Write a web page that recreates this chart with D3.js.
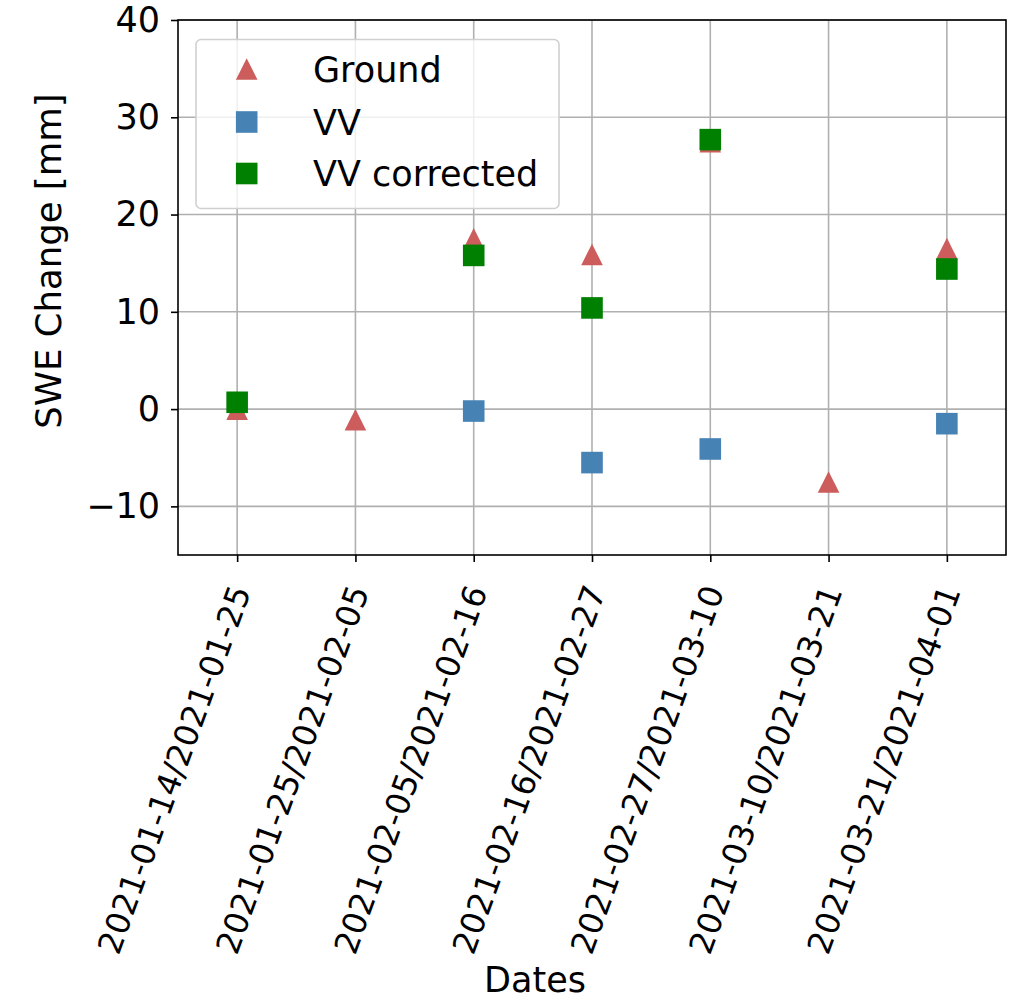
<!DOCTYPE html>
<html>
<head>
<meta charset="utf-8">
<script src="https://cdn.jsdelivr.net/npm/d3@7"></script>
<style>
  html, body { margin: 0; padding: 0; background: #fff; }
  svg { display: block; font-family: "DejaVu Sans", sans-serif; }
</style>
</head>
<body>
<svg id="chart" width="1015" height="997"></svg>
<script>
const categories = [
  "2021-01-14/2021-01-25",
  "2021-01-25/2021-02-05",
  "2021-02-05/2021-02-16",
  "2021-02-16/2021-02-27",
  "2021-02-27/2021-03-10",
  "2021-03-10/2021-03-21",
  "2021-03-21/2021-04-01"
];
const groundValues = [0.0, -1.1, 17.5, 15.9, 27.5, -7.5, 16.5];
const vvValues = [null, null, -0.2, -5.5, -4.1, null, -1.5];
const vvCorrectedValues = [0.7, null, 15.8, 10.4, 27.7, null, 14.4];
const yTicks = [-10, 0, 10, 20, 30, 40];

const series = [
  { name: "Ground", values: groundValues, color: "#CD5C5C", shape: "triangle" },
  { name: "VV", values: vvValues, color: "#4682B4", shape: "square" },
  { name: "VV corrected", values: vvCorrectedValues, color: "#008000", shape: "square" }
];

(function () {
const svg = d3.select("#chart");
const mLeft = 178, mRight = 1006, mTop = 20, mBottom = 555;
const fs = 35;

const x = d3.scaleLinear().domain([-0.5, categories.length - 0.5]).range([mLeft, mRight]);
const y = d3.scaleLinear().domain([-15, 40]).range([mBottom, mTop]);

// grid
const grid = svg.append("g");
grid.selectAll("line.vg").data(categories).enter().append("line")
  .attr("x1", (d, i) => x(i)).attr("x2", (d, i) => x(i))
  .attr("y1", mTop).attr("y2", mBottom)
  .attr("stroke", "#b0b0b0").attr("stroke-width", 1.6);
grid.selectAll("line.hg").data(yTicks).enter().append("line")
  .attr("x1", mLeft).attr("x2", mRight)
  .attr("y1", d => y(d)).attr("y2", d => y(d))
  .attr("stroke", "#b0b0b0").attr("stroke-width", 1.6);

// markers
const S = 10.8;
function markerPath(shape) {
  if (shape === "triangle") return `M0,${-S}L${-S},${S}L${S},${S}Z`;
  return `M${-S},${-S}H${S}V${S}H${-S}Z`;
}
series.forEach(s => {
  svg.append("g").selectAll("path")
    .data(s.values.map((v, i) => ({ v, i })).filter(d => d.v !== null))
    .enter().append("path")
    .attr("d", markerPath(s.shape))
    .attr("transform", d => `translate(${x(d.i)},${y(d.v)})`)
    .attr("fill", s.color);
});

// axes
const yAxis = d3.axisLeft(y).tickValues(yTicks).tickSize(7).tickPadding(11)
  .tickFormat(d => d < 0 ? "\u2212" + Math.abs(d) : String(d));
const gy = svg.append("g").attr("transform", `translate(${mLeft},0)`).call(yAxis);
gy.select(".domain").remove();
gy.selectAll("line").attr("stroke", "#000").attr("stroke-width", 1.6);
gy.selectAll("text").attr("font-size", fs).attr("fill", "#000")
  .attr("font-family", "DejaVu Sans, sans-serif");

const xAxis = d3.axisBottom(x).tickValues(d3.range(categories.length)).tickSize(7)
  .tickFormat(i => categories[i]);
const gx = svg.append("g").attr("transform", `translate(0,${mBottom})`).call(xAxis);
gx.select(".domain").remove();
gx.selectAll("line").attr("stroke", "#000").attr("stroke-width", 1.6);
gx.selectAll("text")
  .attr("font-size", 32.5).attr("fill", "#000")
  .attr("font-family", "DejaVu Sans, sans-serif")
  .attr("text-anchor", "end")
  .attr("x", 0).attr("y", 0).attr("dy", "0.35em")
  .attr("transform", "translate(3,32) rotate(-70)");

// spines
svg.append("rect").attr("x", mLeft).attr("y", mTop)
  .attr("width", mRight - mLeft).attr("height", mBottom - mTop)
  .attr("fill", "none").attr("stroke", "#000").attr("stroke-width", 1.6);

// axis labels
svg.append("text").attr("x", 535).attr("y", 992).attr("text-anchor", "middle")
  .attr("font-size", 35).attr("fill", "#000").text("Dates");
svg.append("text").attr("transform", "translate(61,261) rotate(-90)")
  .attr("text-anchor", "middle").attr("font-size", 35.5).attr("fill", "#000")
  .text("SWE Change [mm]");

// legend
const lg = svg.append("g");
lg.append("rect").attr("x", 196).attr("y", 39.5).attr("width", 363).attr("height", 169)
  .attr("rx", 5).attr("fill", "rgba(255,255,255,0.8)")
  .attr("stroke", "#d0d0d0").attr("stroke-width", 1.6);
const rowY = [69, 122, 173.5];
series.forEach((s, k) => {
  lg.append("path").attr("d", markerPath(s.shape))
    .attr("transform", `translate(246.7,${rowY[k]})`).attr("fill", s.color);
  lg.append("text").attr("x", 313).attr("y", rowY[k]).attr("dy", "0.36em")
    .attr("font-size", fs).attr("fill", "#000").text(s.name);
});
})();
</script>
</body>
</html>
